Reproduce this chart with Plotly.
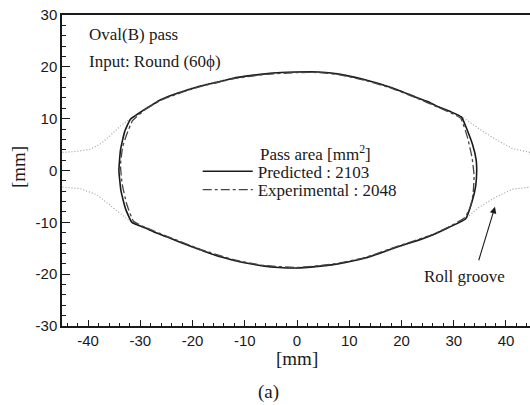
import plotly.graph_objects as go

# Predicted pass outline (mm), closed contour
pred_x = [-31.9, -30.5, -29.0, -27.5, -26.2, -24.0, -22.0, -18.5, -15.0, -12.2, -9.0, -6.5, -3.0, 0.0, 4.0, 8.0,
          13.0, 18.0, 22.6, 25.0, 27.0, 29.5, 31.5,
          32.5, 33.6, 34.3, 34.4, 34.2, 33.5, 32.3,
          29.0, 25.8, 22.5, 19.3, 16.0, 13.0, 9.5, 6.6, 3.0, 0.0, -3.5, -6.5, -9.5, -12.2, -15.5, -18.5,
          -22.0, -24.9, -27.0, -29.0, -31.6,
          -32.8, -33.7, -34.1, -33.8, -33.0, -31.9]
pred_y = [9.9, 10.9, 11.9, 12.8, 13.6, 14.5, 15.2, 16.3, 17.1, 17.8, 18.3, 18.6, 18.9, 19.0, 19.0, 18.6,
          17.5, 16.0, 14.2, 13.3, 12.3, 11.3, 10.3,
          8.0, 5.0, 2.0, 0.0, -3.0, -6.0, -9.3,
          -11.0, -12.5, -13.7, -14.7, -15.9, -16.9, -17.7, -18.2, -18.6, -18.8, -18.7, -18.4, -17.9, -17.3, -16.4, -15.3,
          -14.0, -12.8, -12.0, -11.1, -10.0,
          -7.5, -4.0, 0.0, 4.0, 7.5, 9.9]

# Experimental pass outline (mm), closed contour
exp_x = [-31.5, -29.0, -26.2, -22.0, -18.5, -12.2, -6.5, 0.0, 4.0, 8.0, 13.0, 18.0, 22.6, 27.0, 31.3,
         32.6, 33.5, 33.9, 33.7, 33.2, 32.1,
         29.0, 25.8, 19.3, 13.0, 6.6, 0.0, -6.5, -12.2, -18.5, -24.9, -29.0, -31.3,
         -32.6, -33.5, -33.8, -33.4, -32.6, -31.5]
exp_y = [9.6, 11.8, 13.5, 15.1, 16.2, 17.7, 18.5, 18.9, 18.9, 18.5, 17.4, 15.9, 14.1, 12.2, 10.1,
         6.5, 2.5, -1.0, -4.5, -7.0, -9.1,
         -10.9, -12.4, -14.6, -16.8, -18.1, -18.7, -18.3, -17.2, -15.2, -12.7, -11.0, -9.8,
         -6.5, -2.5, 1.0, 4.5, 7.0, 9.6]

# Roll groove profile (mm), upper and lower halves
groove_top_x = [-44.9, -42.0, -39.6, -37.5, -35.8, -33.8, -31.9, -29.0, -26.2, -22.0, -18.5, -12.2, -6.5,
                0.0, 4.0, 8.0, 13.0, 18.0, 22.6, 27.0, 31.5, 33.5, 35.5, 38.2, 41.3, 44.6]
groove_top_y = [3.5, 3.7, 4.1, 5.2, 6.7, 8.6, 10.0, 12.0, 13.7, 15.3, 16.4, 17.9, 18.7,
                19.1, 19.1, 18.7, 17.6, 16.1, 14.3, 12.4, 10.4, 9.0, 7.6, 5.9, 4.2, 3.5]
groove_bot_x = [-44.9, -41.5, -38.3, -35.8, -33.8, -31.6, -29.0, -24.9, -18.5, -12.2, -6.5, 0.0,
                6.6, 13.0, 19.3, 25.8, 29.0, 32.3, 35.0, 38.2, 41.3, 44.6]
groove_bot_y = [-3.2, -3.5, -4.7, -6.7, -8.4, -10.1, -11.2, -12.9, -15.4, -17.4, -18.5, -18.9,
                -18.3, -17.0, -14.8, -12.6, -11.1, -9.3, -7.0, -5.05, -3.6, -3.2]

x_ticks = [-40, -30, -20, -10, 0, 10, 20, 30, 40]
x_labels = ["-40", "-30", "-20", "-10", "0", "10", "20", "30", "40"]
y_ticks = [-30, -20, -10, 0, 10, 20, 30]
y_labels = ["-30", "-20", "-10", "0", "10", "20", "30"]

SERIF = "Liberation Serif"
SANS = "Liberation Sans"
INK = "#1a1a1a"

fig = go.Figure()

for gx, gy in ((groove_top_x, groove_top_y), (groove_bot_x, groove_bot_y)):
    fig.add_trace(go.Scatter(x=gx, y=gy, mode="lines", showlegend=False, hoverinfo="skip",
                             line=dict(color="#999999", width=1.1, dash="1px,2px")))

fig.add_trace(go.Scatter(x=pred_x, y=pred_y, mode="lines", name="Predicted : 2103", legend="legend",
                         line=dict(color=INK, width=1.6, shape="spline", smoothing=0.4)))
fig.add_trace(go.Scatter(x=exp_x, y=exp_y, mode="lines", name="Experimental : 2048", legend="legend2",
                         line=dict(color="#444444", width=1.3, dash="dashdot", shape="spline", smoothing=0.4)))

axis_common = dict(showgrid=False, zeroline=False, showline=True, linecolor=INK, linewidth=1.5,
                   ticks="inside", tickcolor=INK, tickwidth=1,
                   tickfont=dict(family=SANS, size=15, color=INK))

fig.update_xaxes(range=[-45, 44.6], tickvals=x_ticks, ticktext=x_labels, ticklen=6, mirror=True,
                 minor=dict(dtick=2, ticks="inside", ticklen=3, tickcolor=INK, tickwidth=1),
                 **axis_common)
fig.update_yaxes(range=[-30, 30], tickvals=y_ticks, ticktext=y_labels, ticklen=8, mirror=False,
                 minor=dict(dtick=2, ticks="inside", ticklen=4, tickcolor=INK, tickwidth=1),
                 **axis_common)

txt = dict(family=SERIF, size=17, color=INK)
fig.add_annotation(x=-40.2, y=26.2, text="Oval(B) pass", showarrow=False,
                   xanchor="left", yanchor="middle", font=txt)
fig.add_annotation(x=-40.2, y=21.0, text="Input: Round (60\u03d5)", showarrow=False,
                   xanchor="left", yanchor="middle", font=txt)
fig.add_annotation(x=-7.4, y=3.4, text="Pass area [mm<sup>2</sup>]", showarrow=False,
                   xanchor="left", yanchor="middle", font=txt)
fig.add_annotation(x=32.1, y=-20.5, text="Roll groove", showarrow=False,
                   xanchor="center", yanchor="middle", font=txt)
fig.add_annotation(x=37.9, y=-7.0, ax=34.7, ay=-17.6, axref="x", ayref="y", text="",
                   showarrow=True, arrowhead=2, arrowsize=1.2, arrowwidth=1.1, arrowcolor=INK)

fig.add_annotation(xref="x", yref="paper", x=0, y=-0.106, text="[mm]", showarrow=False,
                   xanchor="center", yanchor="middle", font=dict(family=SERIF, size=19, color=INK))
fig.add_annotation(xref="paper", yref="paper", x=-0.094, y=0.511, text="[mm]", showarrow=False,
                   xanchor="center", yanchor="middle", textangle=-90,
                   font=dict(family=SERIF, size=19, color=INK))
fig.add_annotation(xref="x", yref="paper", x=-5.5, y=-0.211, text="(a)", showarrow=False,
                   xanchor="center", yanchor="middle", font=dict(family=SERIF, size=19, color=INK))

leg = dict(xanchor="left", yanchor="middle", bgcolor="rgba(0,0,0,0)",
           font=dict(family=SERIF, size=17, color=INK), itemwidth=50)
fig.update_layout(
    width=530, height=405,
    margin=dict(l=62, r=0, t=15, b=79),
    paper_bgcolor="white", plot_bgcolor="white",
    showlegend=True,
    legend=dict(x=0.29, y=(326 - 171.7) / 311, **leg),
    legend2=dict(x=0.29, y=(326 - 190.0) / 311, **leg),
)

fig.write_html("out.html")
